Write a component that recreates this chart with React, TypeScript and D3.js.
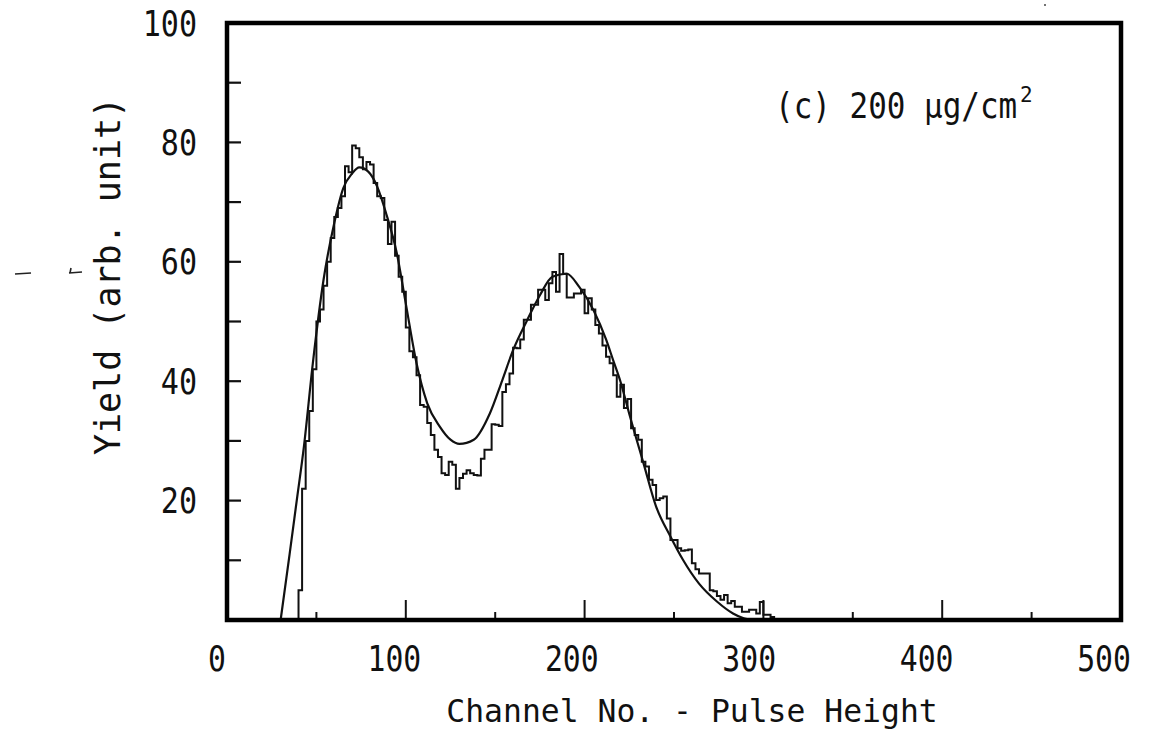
import React from 'react';
import * as d3 from 'd3';

// ---- data ----
const histStart = 40;
const binWidth = 2;
const histCounts = [
  5, 22, 30, 35, 42, 50, 52, 56, 60, 64,
  67.5, 69, 71, 76, 75, 79.5, 79, 77.5, 75.5, 76.7,
  76.3, 73.2, 71, 70.7, 67, 63, 66.7, 61, 57.5, 55,
  49, 45, 44, 41, 36, 35.7, 33, 31, 28.5, 27.3,
  24.6, 24.3, 26.5, 26, 22, 23.8, 24.5, 25.1, 24.6, 24.3,
  24.2, 27, 28.5, 28.5, 32.8, 32.7, 32.5, 38.2, 39.5, 41.3,
  45.6, 45.5, 47, 50.3, 50.3, 52.8, 52.8, 55.3, 55.3, 53.6,
  56.4, 58.3, 55, 61.3, 58, 54, 54, 54.7, 54.7, 55.3,
  51.4, 53.9, 52, 49.4, 48, 46, 44.1, 43, 41, 37.4,
  39.4, 35.5, 37, 32.1, 31, 30.2, 26.5, 25.7, 23.5, 22.6,
  20.1, 20.4, 20.7, 17, 13.4, 13.4, 12, 11.6, 11.7, 11.8,
  9.5, 8.5, 7.8, 7.8, 7.8, 5, 4.8, 4, 3.4, 4.2,
  2.8, 3.2, 2.2, 2.2, 1.4, 1.4, 1.7, 1.7, 1.1, 3,
  0.9, 0.9, 0.5,
];
const fitChannels = [30, 35, 39, 43, 48, 54, 60, 65, 70, 74, 79, 84, 89, 95, 100, 106, 112, 119, 125, 130, 138, 147, 154, 160, 168, 175, 182, 190, 197, 205, 212, 216, 220, 225, 233, 240, 248, 255, 264, 274, 283, 289, 295];
const fitValues = [0, 11, 20, 29, 43, 57, 66.5, 72.3, 74.8, 75.8, 75.1, 72.6, 68.1, 61.4, 53, 43, 36.3, 32.4, 30.2, 29.5, 30.2, 34.6, 40.2, 45.2, 50.3, 54.4, 57.5, 58, 55.8, 51.9, 47, 43.5, 40, 34.5, 26.2, 19, 14, 10.1, 6.1, 3.1, 1.1, 0.3, 0];
const xMajorTicks = [100, 200, 300, 400];
const xMinorTicks = [50, 150, 250, 350, 450];
const xTickLabels = [0, 100, 200, 300, 400, 500];
const yTicks = [10, 20, 30, 40, 50, 60, 70, 80, 90];
const yTickLabels = [20, 40, 60, 80, 100];
const xTitle = 'Channel No. - Pulse Height';
const yTitle = 'Yield (arb. unit)';
const annotation = '(c) 200 μg/cm';
const annotationSup = '2';

const FONT = '"DejaVu Sans Mono", monospace';

export default function App() {
  const x = d3.scaleLinear().domain([0, 500]).range([227, 1121]);
  const xLabel = d3.scaleLinear().domain([0, 500]).range([217, 1104]);
  const y = d3.scaleLinear().domain([0, 100]).range([620, 23]);

  const histPts: [number, number][] = [[histStart, 0]];
  histCounts.forEach((v, i) => histPts.push([histStart + i * binWidth, v]));
  histPts.push([histStart + histCounts.length * binWidth, 0]);
  const histLine = d3
    .line<[number, number]>()
    .x((d) => x(d[0]))
    .y((d) => y(d[1]))
    .curve(d3.curveStepAfter);

  const fitLine = d3
    .line<number>()
    .x((_, i) => x(fitChannels[i]))
    .y((d) => y(d))
    .curve(d3.curveMonotoneX);

  const [x0, x1] = x.range();
  const [yb, yt] = y.range();

  return (
    <svg
      width={1154}
      height={733}
      style={{ position: 'absolute', left: 0, top: 0, background: '#fff' }}
    >
      <rect x={0} y={0} width={1154} height={733} fill="#fff" />
      {/* data */}
      <path d={histLine(histPts) || ''} fill="none" stroke="#111" strokeWidth={2} />
      <path d={fitLine(fitValues) || ''} fill="none" stroke="#111" strokeWidth={2.2} />

      {/* y ticks */}
      {yTicks.map((t) => (
        <line key={'yt' + t} x1={x0} x2={x0 + 14} y1={y(t)} y2={y(t)} stroke="#111" strokeWidth={2.2} />
      ))}
      {/* x ticks */}
      {xMajorTicks.map((t) => (
        <line key={'xM' + t} x1={x(t)} x2={x(t)} y1={yb} y2={yb - 20} stroke="#111" strokeWidth={2} />
      ))}
      {xMinorTicks.map((t) => (
        <line key={'xm' + t} x1={x(t)} x2={x(t)} y1={yb} y2={yb - 8} stroke="#111" strokeWidth={2} />
      ))}

      {/* frame */}
      <rect x={x0} y={yt} width={x1 - x0} height={yb - yt} fill="none" stroke="#000" strokeWidth={4.5} />

      {/* x tick labels */}
      {xTickLabels.map((t) => (
        <text
          key={'xl' + t}
          transform={`translate(${xLabel(t)},671) scale(0.85,1)`}
          textAnchor="middle"
          fontFamily={FONT}
          fontSize={35}
          fill="#111"
        >
          {t}
        </text>
      ))}
      {/* y tick labels */}
      {yTickLabels.map((t) => (
        <text
          key={'yl' + t}
          transform={`translate(197,${y(t) + 12.5}) scale(0.86,1)`}
          textAnchor="end"
          fontFamily={FONT}
          fontSize={35}
          fill="#111"
        >
          {t}
        </text>
      ))}

      {/* axis titles */}
      <text x={692} y={722} textAnchor="middle" fontFamily={FONT} fontSize={31.4} fill="#111">
        {xTitle}
      </text>
      <text
        transform="translate(120,276) rotate(-90)"
        textAnchor="middle"
        fontFamily={FONT}
        fontSize={35}
        fill="#111"
      >
        {yTitle}
      </text>

      {/* annotation */}
      <text transform="translate(775,118) scale(0.86,1)" fontFamily={FONT} fontSize={36} fill="#111">
        {annotation}
      </text>
      <text x={1020} y={102} fontFamily={FONT} fontSize={21} fill="#111">
        {annotationSup}
      </text>

      {/* stray scan marks */}
      <path d="M15,274 L31,273" stroke="#222" strokeWidth={1.6} />
      <path d="M69,273 L82,272 M70,273 L71,268" stroke="#222" strokeWidth={1.6} />
      <circle cx={1045} cy={5} r={1} fill="#444" />
    </svg>
  );
}
